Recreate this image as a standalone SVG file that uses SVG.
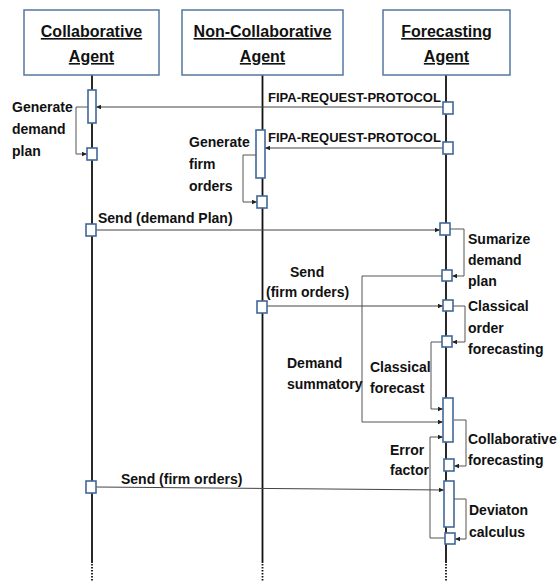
<svg xmlns="http://www.w3.org/2000/svg" width="558" height="584" viewBox="0 0 558 584">
  <style>
    .hdr { fill: #fff; stroke: #5677A0; stroke-width: 1.5; }
    .ht { font-family: "Liberation Sans", Arial, sans-serif; font-weight: bold; font-size: 16px; fill: #111; text-anchor: middle; text-decoration: underline; }
    .lbl { font-family: "Liberation Sans", Arial, sans-serif; font-weight: bold; font-size: 14px; fill: #111; }
    .fipa { font-size: 13px; }
    .life { stroke: #111; stroke-width: 1.8; fill: none; }
    .dots { stroke: #111; stroke-width: 1.8; stroke-dasharray: 1.5 1.5; fill: none; }
    .act { fill: #fff; stroke: #41689A; stroke-width: 1.6; }
    .msg { fill: none; stroke: #444; stroke-width: 1; marker-end: url(#ah); }
    .loop { fill: none; stroke: #555; stroke-width: 1; marker-end: url(#ah); }
  </style>
  <defs>
    <marker id="ah" viewBox="0 0 6 6" refX="6" refY="3" markerWidth="5" markerHeight="5" orient="auto" markerUnits="userSpaceOnUse">
      <path d="M0,0.3 L6,3 L0,5.7 z" fill="#222"/>
    </marker>
  </defs>

  <g id="lifelines">
    <path class="life" d="M92,75 V563"/>
    <path class="dots" d="M92,564 V581"/>
    <path class="life" d="M262.5,75 V563"/>
    <path class="dots" d="M262.5,564 V581"/>
    <path class="life" d="M446,75 V563"/>
    <path class="dots" d="M446,564 V581"/>
  </g>

  <g id="collaborative-agent">
    <rect class="hdr" x="24" y="10" width="135" height="65"/>
    <text class="ht" x="91.5" y="37">Collaborative</text>
    <text class="ht" x="91.5" y="62">Agent</text>
  </g>
  <g id="non-collaborative-agent">
    <rect class="hdr" x="182" y="10" width="161" height="65"/>
    <text class="ht" x="262.5" y="37">Non-Collaborative</text>
    <text class="ht" x="262.5" y="62">Agent</text>
  </g>
  <g id="forecasting-agent">
    <rect class="hdr" x="383" y="10" width="127" height="65"/>
    <text class="ht" x="446.5" y="37">Forecasting</text>
    <text class="ht" x="446.5" y="62">Agent</text>
  </g>

  <g id="connectors">
    <path class="msg" d="M443,107 H96"/>
    <path class="loop" d="M88,107 H76 V154 H87"/>
    <path class="msg" d="M443,148 H265"/>
    <path class="loop" d="M256,155 H243 V202 H257"/>
    <path class="msg" d="M96,230 H440"/>
    <path class="loop" d="M450,229 H464 V276 H452"/>
    <path class="loop" d="M442,276 H362 V422 H443"/>
    <path class="msg" d="M267,306 H443"/>
    <path class="loop" d="M453,306 H465 V342 H452"/>
    <path class="loop" d="M442,342 H431 V409 H443"/>
    <path class="loop" d="M454,420 H466 V466 H454"/>
    <path class="loop" d="M445,538 H430 V437 H443"/>
    <path class="msg" d="M96,487 L444,490"/>
    <path class="loop" d="M454,499 H466 V539 H455"/>
  </g>

  <g id="activations">
    <rect class="act" x="88" y="90" width="8" height="33"/>
    <rect class="act" x="443" y="102" width="10" height="12"/>
    <rect class="act" x="443" y="142" width="10" height="12"/>
    <rect class="act" x="87" y="148" width="10" height="12"/>
    <rect class="act" x="256" y="130" width="9" height="48"/>
    <rect class="act" x="257" y="196" width="10" height="12"/>
    <rect class="act" x="86" y="224" width="10" height="12"/>
    <rect class="act" x="440" y="223" width="10" height="12"/>
    <rect class="act" x="442" y="270" width="10" height="11"/>
    <rect class="act" x="257" y="301" width="10" height="12"/>
    <rect class="act" x="443" y="300" width="10" height="11"/>
    <rect class="act" x="442" y="336" width="10" height="11"/>
    <rect class="act" x="443" y="398" width="10" height="44"/>
    <rect class="act" x="444" y="459" width="10" height="12"/>
    <rect class="act" x="86" y="481" width="10" height="12"/>
    <rect class="act" x="444" y="481" width="10" height="46"/>
    <rect class="act" x="445" y="533" width="10" height="11"/>
  </g>

  <g id="labels">
    <text class="lbl fipa" x="268" y="102">FIPA-REQUEST-PROTOCOL</text>
    <text class="lbl fipa" x="268" y="142">FIPA-REQUEST-PROTOCOL</text>
    <text class="lbl" x="12" y="112">Generate</text>
    <text class="lbl" x="12" y="134">demand</text>
    <text class="lbl" x="12" y="156">plan</text>
    <text class="lbl" x="189" y="147">Generate</text>
    <text class="lbl" x="189" y="169">firm</text>
    <text class="lbl" x="189" y="191">orders</text>
    <text class="lbl" x="98" y="223">Send (demand Plan)</text>
    <text class="lbl" x="468" y="244">Sumarize</text>
    <text class="lbl" x="468" y="265">demand</text>
    <text class="lbl" x="468" y="286">plan</text>
    <text class="lbl" x="290" y="277">Send</text>
    <text class="lbl" x="266" y="297">(firm orders)</text>
    <text class="lbl" x="468" y="311">Classical</text>
    <text class="lbl" x="468" y="333">order</text>
    <text class="lbl" x="468" y="354">forecasting</text>
    <text class="lbl" x="287" y="368">Demand</text>
    <text class="lbl" x="287" y="389">summatory</text>
    <text class="lbl" x="370" y="372">Classical</text>
    <text class="lbl" x="370" y="393">forecast</text>
    <text class="lbl" x="468" y="444">Collaborative</text>
    <text class="lbl" x="468" y="465">forecasting</text>
    <text class="lbl" x="390" y="455">Error</text>
    <text class="lbl" x="390" y="475">factor</text>
    <text class="lbl" x="121" y="484">Send (firm orders)</text>
    <text class="lbl" x="469" y="515">Deviaton</text>
    <text class="lbl" x="469" y="537">calculus</text>
  </g>
</svg>
